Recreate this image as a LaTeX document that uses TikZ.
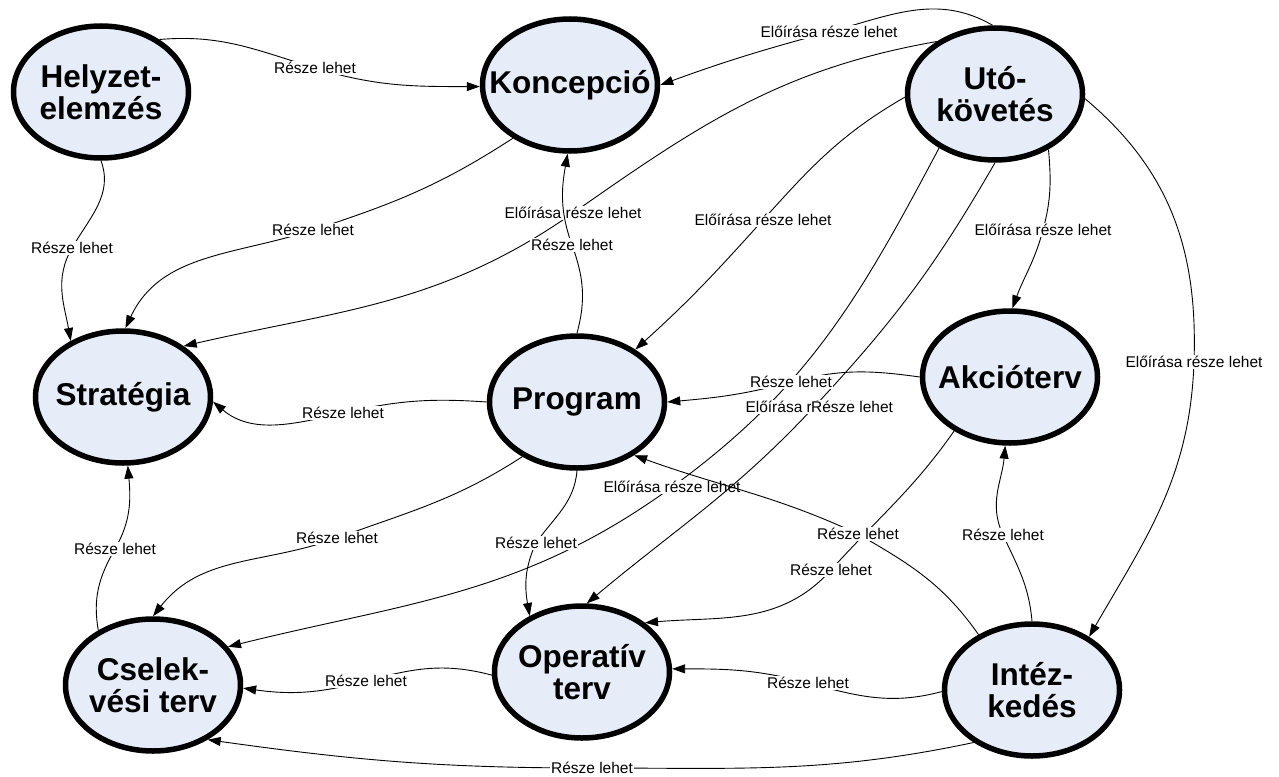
\documentclass[tikz,border=0pt]{standalone}
\usepackage{fontspec}
\setmainfont{Liberation Sans}
\usetikzlibrary{arrows.meta,shapes.geometric}
\definecolor{nodefill}{RGB}{230,236,248}
\begin{document}
\begin{tikzpicture}[x=1pt,y=1pt,
  state/.style={ellipse, draw=black, line width=5.5pt, fill=nodefill,
    minimum width=175pt, minimum height=132pt, inner sep=0pt},
  nodetext/.style={font=\bfseries\fontsize{31.5}{32}\selectfont, align=center, inner sep=0pt},
  rel/.style={draw=black, line width=0.9pt, -{Triangle[length=13pt,width=9pt]}},
  lbl/.style={fill=white, inner sep=1.2pt, font=\fontsize{15.5}{17}\selectfont}]
\useasboundingbox (0,0) rectangle (1279,-776);
\fill[white] (0,0) rectangle (1279,-776);

\node[state, label={[nodetext]center:{Helyzet-\\elemzés}}] (H) at (101,-92) {};
\node[state, label={[nodetext]center:{Koncepció}}] (K) at (570,-85) {};
\node[state, label={[nodetext]center:{Utó-\\követés}}] (U) at (995,-94) {};
\node[state, label={[nodetext]center:{Stratégia}}] (S) at (123,-397) {};
\node[state, label={[nodetext]center:{Program}}] (P) at (577,-402) {};
\node[state, label={[nodetext]center:{Akcióterv}}] (A) at (1010,-377) {};
\node[state, label={[nodetext]center:{Cselek-\\vési terv}}] (C) at (153,-685) {};
\node[state, label={[nodetext]center:{Operatív\\terv}}] (O) at (582,-672) {};
\node[state, label={[nodetext]center:{Intéz-\\kedés}}] (I) at (1032,-690) {};

\draw[rel] (H.42) to[out=5,in=163] (315,-68) node[lbl]{Része lehet} to[out=-17,in=180] (K.181);
\draw[rel] (H.270) to[out=-70,in=60] (72,-248) node[lbl]{Része lehet} to[out=-120,in=100] (S.133);
\draw[rel] (K.223) to[out=213,in=18] (313,-230) node[lbl]{Része lehet} to[out=198,in=65] (S.88);
\draw[rel] (U.92) to[out=150,in=15] (829,-32) node[lbl]{Előírása része lehet} to[out=195,in=20] (K.0);
\draw[rel] (U.138) to[out=190,in=35] (573,-213) node[lbl]{Előírása része lehet} to[out=215,in=13] (S.40);
\draw[rel] (U.182) to[out=210,in=48] (763,-220) node[lbl]{Előírása része lehet} to[out=228,in=42] (P.42);
\draw[rel] (U.314) to[out=-85,in=75] (1043,-230) node[lbl]{Előírása része lehet} to[out=-105,in=70] (A.88);
\draw[rel] (U.357) to[out=-40,in=88] (1194,-362) node[lbl]{Előírása része lehet} to[out=-92,in=60] (I.43);
\draw[rel] (U.224) to[out=242,in=36] (672,-487) node[lbl]{Előírása része lehet} to[out=216,in=14] (C.27);
\draw[rel] (U.270) to[out=240,in=47] (814,-407) node[lbl] (Lb) {Előírása része lehet} to[out=227,in=40] (O.86);
\node[lbl, anchor=west, inner sep=0.6pt] (X) at ([xshift=66.5pt]Lb.west) {Része lehet};
\draw[rel] (P.90) to[out=75,in=-70] (572,-245) node[lbl]{Része lehet} to[out=110,in=-100] (K.268);
\draw[rel] (P.180) to[out=176,in=13] (343,-413) node[lbl]{Része lehet} to[out=193,in=-40] (S.357);
\draw[rel] (C.135) to[out=100,in=-120] (115,-549) node[lbl]{Része lehet} to[out=60,in=-85] (S.274);
\draw[rel] (P.225) to[out=213,in=20] (337,-538) node[lbl]{Része lehet} to[out=200,in=52] (C.90);
\draw[rel] (O.182) to[out=165,in=15] (366,-681) node[lbl]{Része lehet} to[out=195,in=-8] (C.358);
\draw[rel] (I.222) to[out=192,in=0] (592,-768) node[lbl]{Része lehet} to[out=180,in=-8] (C.315);
\draw[rel] (P.270) to[out=-95,in=55] (536,-543) node[lbl]{Része lehet} to[out=-115,in=100] (O.133);
\draw[rel] (I.181) to[out=195,in=-15] (808,-683) node[lbl]{Része lehet} to[out=165,in=0] (O.2);
\draw[rel] (A.224) to[out=235,in=48] (831,-570) node[lbl]{Része lehet} to[out=228,in=5] (O.38);
\draw[rel] (A.180) to[out=172,in=15] (791,-382) node[lbl]{Része lehet} to[out=195,in=5] (P.0);
\draw[rel] (I.90) to[out=95,in=-65] (1003,-535) node[lbl]{Része lehet} to[out=115,in=-95] (A.266);
\draw[rel] (I.134) to[out=125,in=-30] (858,-534) node[lbl]{Része lehet} to[out=155,in=-20] (P.317);
\end{tikzpicture}
\end{document}
